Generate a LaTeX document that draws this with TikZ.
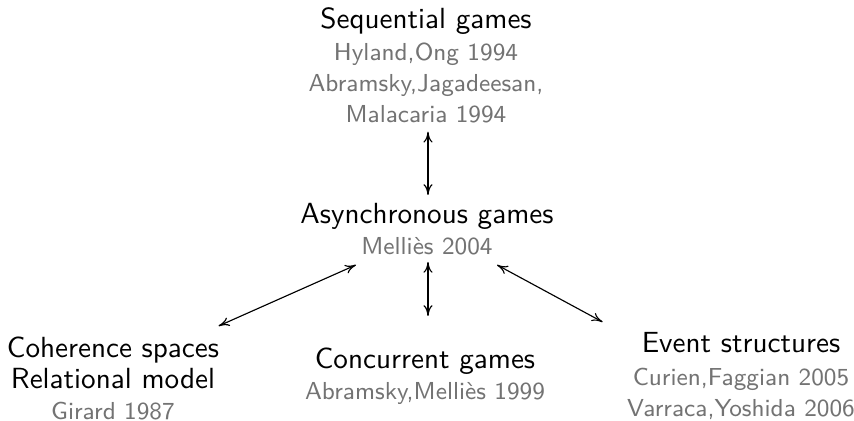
\documentclass[tikz,border=0pt]{standalone}
\usepackage{fontspec}
\usetikzlibrary{calc,arrows.meta}
\begin{document}
\begin{tikzpicture}[x=0.35pt,y=-0.35pt,
  grp/.style={anchor=north,inner sep=0pt,align=center,
    font=\sffamily\fontsize{8.6}{10.85}\selectfont},
  arr/.style={{To[length=3.8pt,width=3.2pt]}-{To[length=3.8pt,width=3.2pt]},line width=0.4pt}]
\newcommand{\ttl}[1]{{\fontsize{10.2}{10.85}\selectfont\color{black}#1}}
\useasboundingbox (0,0) rectangle (854,421);
\node[grp] (seq) at (426,7) {\ttl{Sequential games}\\[0.4pt]
  \color{black!55}Hyland,Ong 1994\\ \color{black!55}Abramsky,Jagadeesan,\\ \color{black!55}Malacaria 1994};
\node[grp] (asy) at (427,203) {\ttl{Asynchronous games}\\ \color{black!55}Melliès 2004};
\node[grp] (coh) at (113,336) {\ttl{Coherence spaces}\\ \ttl{Relational model}\\ \color{black!55}Girard 1987};
\node[grp] (con) at (425,347) {\ttl{Concurrent games}\\ \color{black!55}Abramsky,Melliès 1999};
\node[grp] (evt) at (741,332) {\ttl{Event structures}\\[0.6pt] \color{black!55}Curien,Faggian 2005\\ \color{black!55}Varraca,Yoshida 2006};
\draw[arr] ($(seq.south)+(2,8)$) -- ($(asy.north)+(1,-8)$);
\draw[arr] ($(asy.south)+(1,6)$) -- ($(con.north)+(3,-31)$);
\draw[arr] ($(asy.south)+(-71,9)$) -- ($(coh.north east)+(-1,-10)$);
\draw[arr] ($(asy.south)+(70,9)$) -- ($(evt.north west)+(-24,-10)$);
\end{tikzpicture}
\end{document}
